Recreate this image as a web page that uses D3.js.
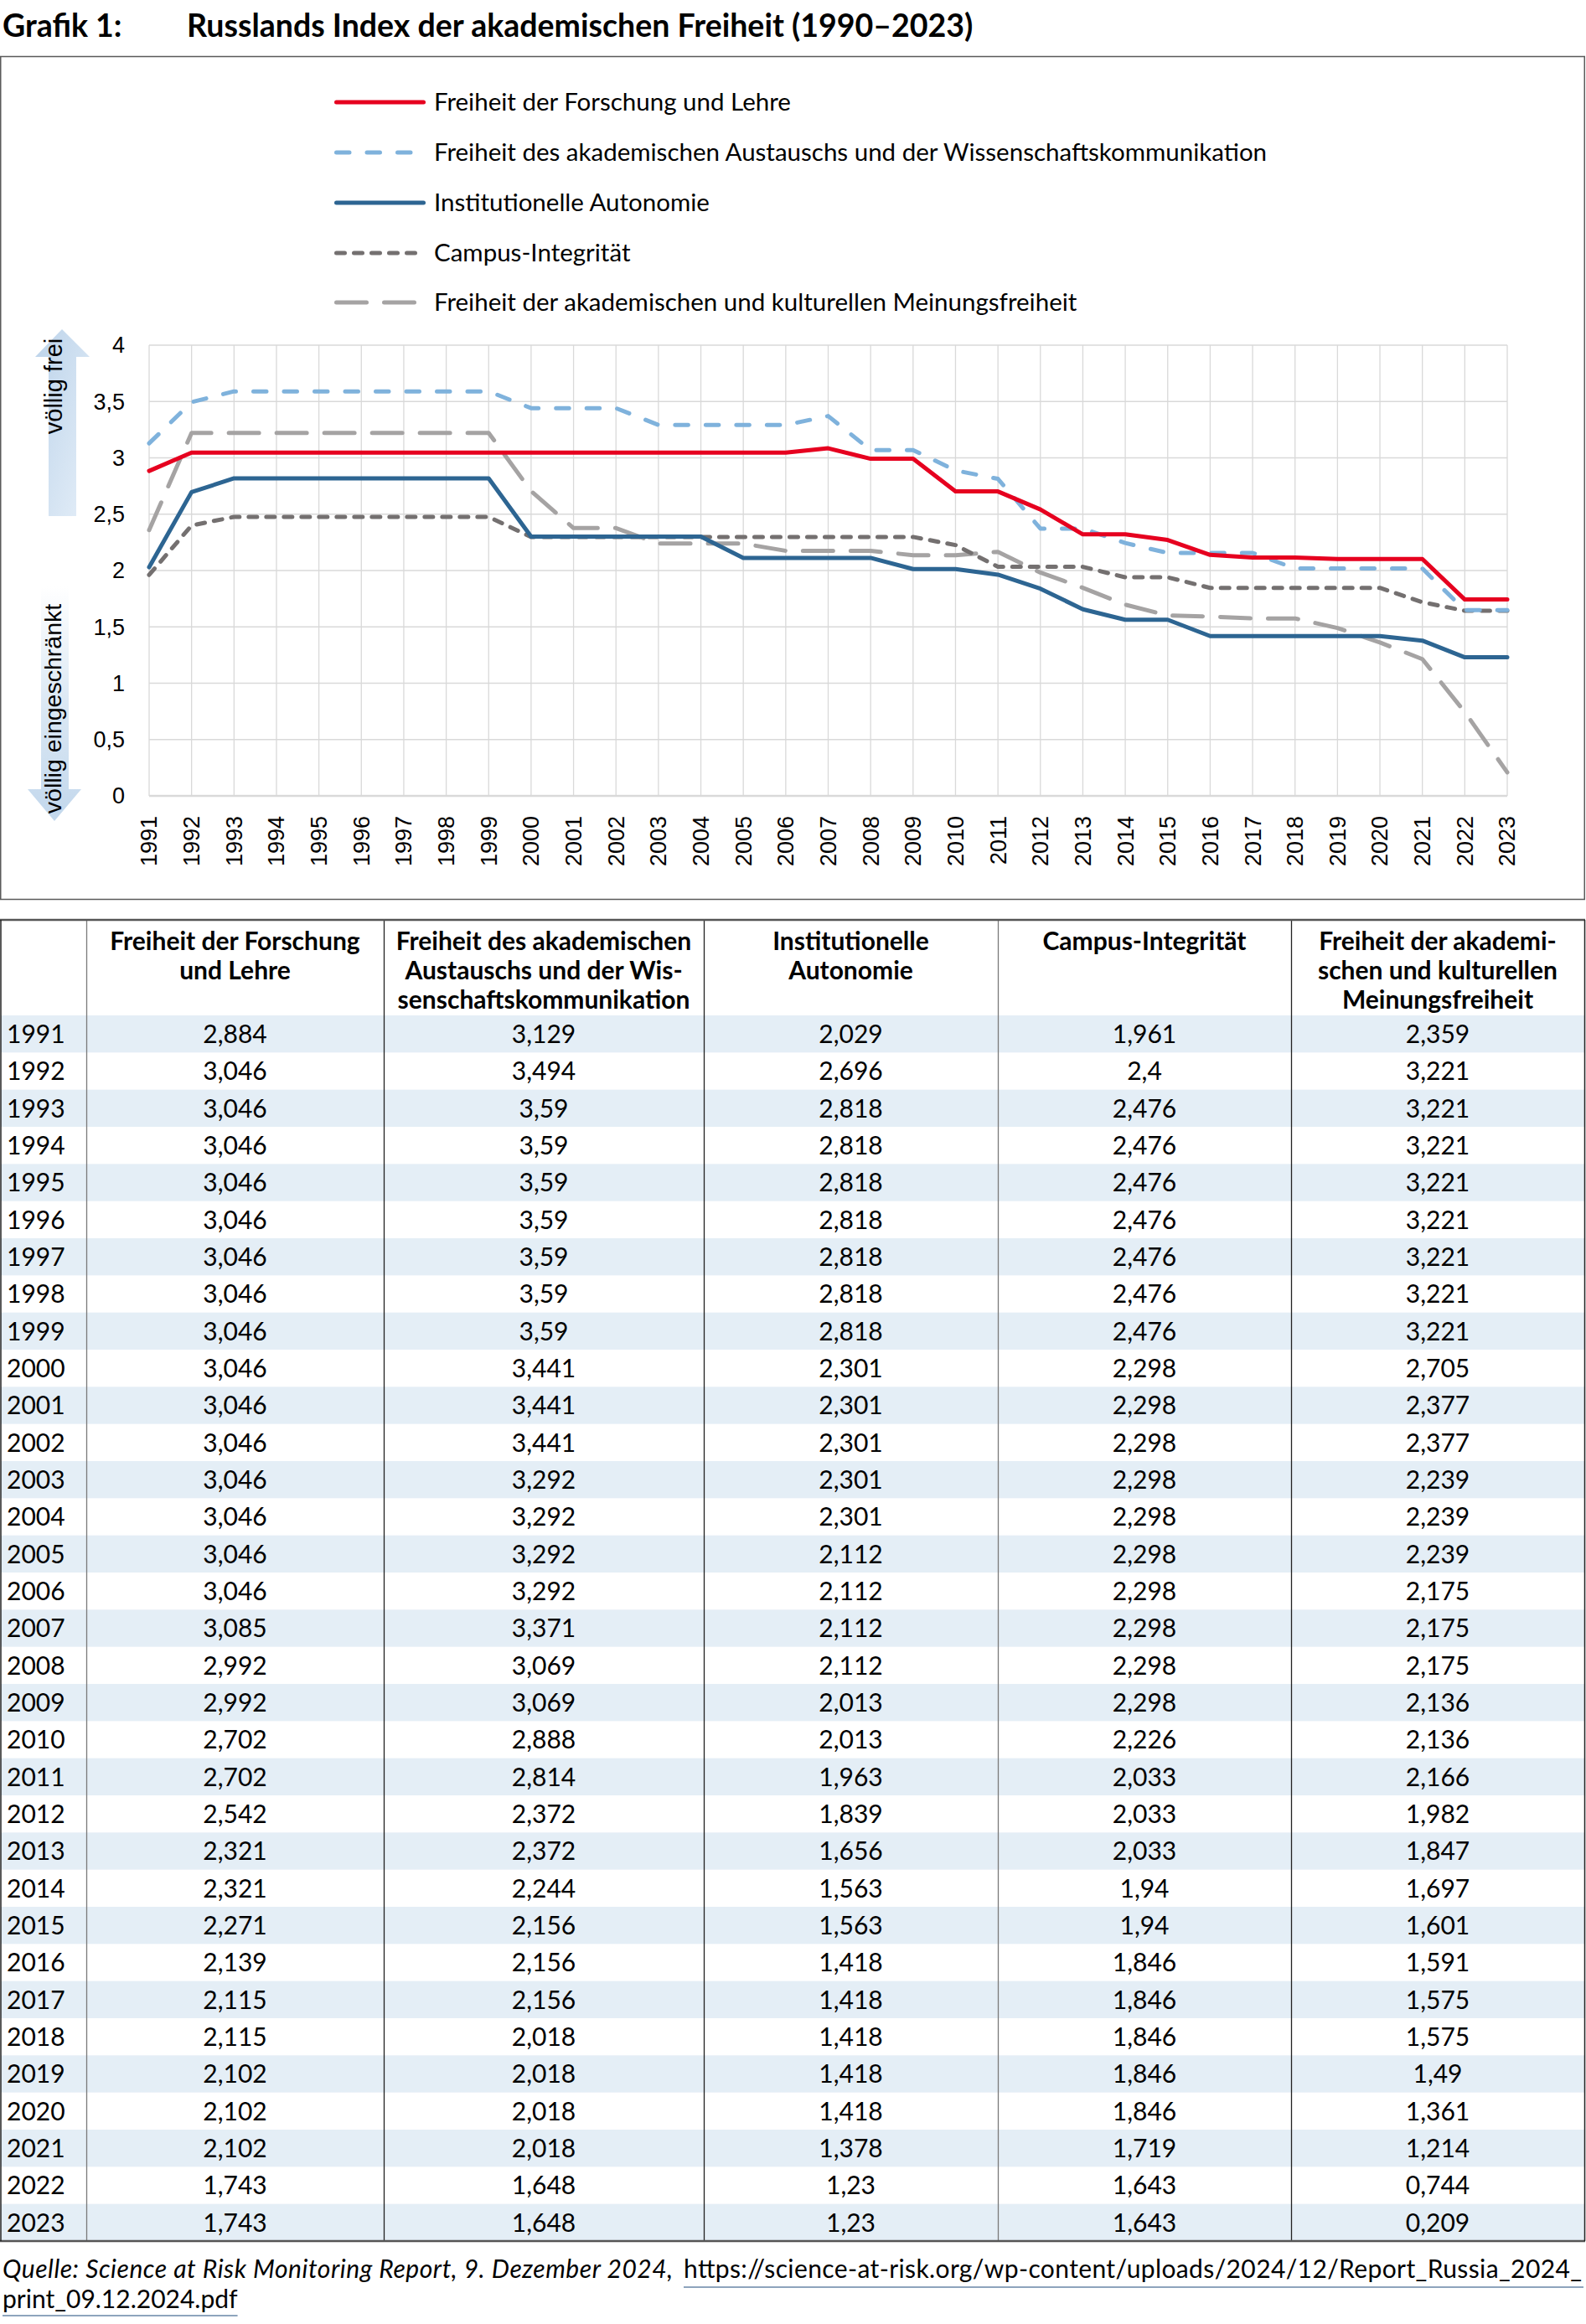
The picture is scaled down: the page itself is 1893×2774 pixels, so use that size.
<!DOCTYPE html>
<html><head><meta charset="utf-8">
<script src="https://cdn.jsdelivr.net/npm/d3@7"></script>
<style>
html,body{margin:0;padding:0;background:#fff;}
svg{display:block;}
</style></head>
<body>
<script>
const years = [1991,1992,1993,1994,1995,1996,1997,1998,1999,2000,2001,2002,2003,2004,2005,2006,2007,2008,2009,2010,2011,2012,2013,2014,2015,2016,2017,2018,2019,2020,2021,2022,2023];
const forschung = [2.884,3.046,3.046,3.046,3.046,3.046,3.046,3.046,3.046,3.046,3.046,3.046,3.046,3.046,3.046,3.046,3.085,2.992,2.992,2.702,2.702,2.542,2.321,2.321,2.271,2.139,2.115,2.115,2.102,2.102,2.102,1.743,1.743];
const austausch = [3.129,3.494,3.59,3.59,3.59,3.59,3.59,3.59,3.59,3.441,3.441,3.441,3.292,3.292,3.292,3.292,3.371,3.069,3.069,2.888,2.814,2.372,2.372,2.244,2.156,2.156,2.156,2.018,2.018,2.018,2.018,1.648,1.648];
const autonomie = [2.029,2.696,2.818,2.818,2.818,2.818,2.818,2.818,2.818,2.301,2.301,2.301,2.301,2.301,2.112,2.112,2.112,2.112,2.013,2.013,1.963,1.839,1.656,1.563,1.563,1.418,1.418,1.418,1.418,1.418,1.378,1.23,1.23];
const campus = [1.961,2.4,2.476,2.476,2.476,2.476,2.476,2.476,2.476,2.298,2.298,2.298,2.298,2.298,2.298,2.298,2.298,2.298,2.298,2.226,2.033,2.033,2.033,1.94,1.94,1.846,1.846,1.846,1.846,1.846,1.719,1.643,1.643];
const meinung = [2.359,3.221,3.221,3.221,3.221,3.221,3.221,3.221,3.221,2.705,2.377,2.377,2.239,2.239,2.239,2.175,2.175,2.175,2.136,2.136,2.166,1.982,1.847,1.697,1.601,1.591,1.575,1.575,1.49,1.361,1.214,0.744,0.209];

const seriesNames = ["Freiheit der Forschung und Lehre","Freiheit des akademischen Austauschs und der Wissenschaftskommunikation","Institutionelle Autonomie","Campus-Integrität","Freiheit der akademischen und kulturellen Meinungsfreiheit"];
const tableHeaders = [
  ["Freiheit der Forschung","und Lehre"],
  ["Freiheit des akademischen","Austauschs und der Wis-","senschaftskommunikation"],
  ["Institutionelle","Autonomie"],
  ["Campus-Integrität"],
  ["Freiheit der akademi-","schen und kulturellen","Meinungsfreiheit"]
];
const yTicks = [0,0.5,1,1.5,2,2.5,3,3.5,4];
const titleLabel = "Grafik 1:";
const titleText = "Russlands Index der akademischen Freiheit (1990–2023)";
const sourceText = "Quelle: Science at Risk Monitoring Report, 9. Dezember 2024,";
const linkLine1 = "https://science-at-risk.org/wp-content/uploads/2024/12/Report_Russia_2024_";
const linkLine2 = "print_09.12.2024.pdf";

const allSeries = [forschung, austausch, autonomie, campus, meinung];
const styles = [
  {color:"#e6001f", dash:null},
  {color:"#7fb2dc", dash:"15.5,21"},
  {color:"#2d6592", dash:null},
  {color:"#747070", dash:"10,11"},
  {color:"#a5a3a3", dash:"36,21"}
];

const W = 1893, H = 2774;
const svg = d3.select("body").append("svg").attr("width",W).attr("height",H)
  .style("font-family","Lato, 'Open Sans', sans-serif");

const defs = svg.append("defs");
const gUp = defs.append("linearGradient").attr("id","gUp").attr("x1","0").attr("y1","0").attr("x2","1").attr("y2","1");
gUp.append("stop").attr("offset","0").attr("stop-color","#bcd3ea");
gUp.append("stop").attr("offset","1").attr("stop-color","#e4eef8");
const gDown = defs.append("linearGradient").attr("id","gDown").attr("x1","0").attr("y1","0").attr("x2","0").attr("y2","1");
gDown.append("stop").attr("offset","0").attr("stop-color","#ffffff");
gDown.append("stop").attr("offset","0.5").attr("stop-color","#dbe8f4");
gDown.append("stop").attr("offset","1").attr("stop-color","#c2d7ec");

// Title
svg.append("text").attr("x",3).attr("y",44).attr("font-weight",700).attr("font-size",37.5).attr("fill","#000").text(titleLabel);
svg.append("text").attr("x",223).attr("y",44).attr("font-weight",700).attr("font-size",37.5).attr("fill","#000").text(titleText);

// chart box
svg.append("rect").attr("x",0.75).attr("y",67.5).attr("width",1890.5).attr("height",1006).attr("fill","none").attr("stroke","#5a5a5a").attr("stroke-width",1.5);

// scales
const x = d3.scaleLinear().domain([1991,2023]).range([178,1799]);
const y = d3.scaleLinear().domain([0,4]).range([950,412]);

// gridlines
const grid = svg.append("g");
grid.selectAll("line.h").data(yTicks.filter(d=>d>0)).join("line")
  .attr("x1",x(1991)).attr("x2",x(2023)).attr("y1",d=>y(d)).attr("y2",d=>y(d))
  .attr("stroke","#d9d9d9").attr("stroke-width",1.3);
grid.selectAll("line.v").data(years).join("line")
  .attr("x1",d=>x(d)).attr("x2",d=>x(d)).attr("y1",y(4)).attr("y2",y(0))
  .attr("stroke","#d9d9d9").attr("stroke-width",1.3);
grid.append("line").attr("x1",x(1991)).attr("x2",x(2023)).attr("y1",y(0)).attr("y2",y(0))
  .attr("stroke","#d9d9d9").attr("stroke-width",2.5);

// y axis labels
svg.append("g").selectAll("text").data(yTicks).join("text")
  .attr("x",149).attr("y",d=>y(d)).attr("dy","0.35em").attr("text-anchor","end")
  .attr("font-family","'Liberation Sans', Arial, sans-serif").attr("font-size",27).attr("fill","#000")
  .text(d=>String(d).replace(".",","));

// x axis labels
svg.append("g").selectAll("text").data(years).join("text")
  .attr("transform",d=>`translate(${x(d)},974) rotate(-90)`).attr("dy","0.35em").attr("text-anchor","end")
  .attr("font-family","'Liberation Sans', Arial, sans-serif").attr("font-size",27).attr("fill","#000")
  .text(d=>d);

// arrows
svg.append("path").attr("d","M74,393 L107,426 L91,426 L91,616 L58,616 L58,426 L42,426 Z").attr("fill","url(#gUp)");
svg.append("path").attr("d","M49,700 L82,700 L82,942 L97,942 L65,980 L33,942 L49,942 Z").attr("fill","url(#gDown)");
svg.append("text").attr("transform","translate(74,461) rotate(-90)").attr("text-anchor","middle")
  .attr("font-family","'Liberation Sans', Arial, sans-serif").attr("font-size",29).attr("fill","#000").text("völlig frei");
svg.append("text").attr("transform","translate(73,846) rotate(-90)").attr("text-anchor","middle")
  .attr("font-family","'Liberation Sans', Arial, sans-serif").attr("font-size",28.5).attr("fill","#000").text("völlig eingeschränkt");

// lines
const line = d3.line().x((d,i)=>x(years[i])).y(d=>y(d));
const lineOrder = [4,3,2,1,0];
lineOrder.forEach(k=>{
  const p = svg.append("path").datum(allSeries[k]).attr("d",line)
    .attr("fill","none").attr("stroke",styles[k].color).attr("stroke-width",5)
    .attr("stroke-linejoin","round").attr("stroke-linecap","round");
  if(styles[k].dash) p.attr("stroke-dasharray",styles[k].dash);
});

// legend
const legY = [122,182,242,302,361];
const leg = svg.append("g");
seriesNames.forEach((n,k)=>{
  const l = leg.append("line").attr("x1",401.5).attr("x2",505.5).attr("y1",legY[k]).attr("y2",legY[k])
    .attr("stroke",styles[k].color).attr("stroke-width",5).attr("stroke-linecap","round");
  if(styles[k].dash) l.attr("stroke-dasharray",styles[k].dash);
  leg.append("text").attr("x",518).attr("y",legY[k]).attr("dy","0.35em").attr("font-size",29.5).attr("fill","#000").text(n);
});

// table
const colX = [0,103,458,840,1191,1541,1891];
const tTop = 1098, headH = 114, rowH = (2675-1212)/33;
const tbl = svg.append("g");
years.forEach((yr,i)=>{
  if(i%2===0) tbl.append("rect").attr("x",1).attr("y",tTop+headH+i*rowH).attr("width",1890).attr("height",rowH).attr("fill","#e4eef6");
});
// header text
tableHeaders.forEach((lines,c)=>{
  const cx = (colX[c+1]+colX[c+2])/2;
  lines.forEach((t,j)=>{
    tbl.append("text").attr("x",cx).attr("y",tTop+25+j*35).attr("dy","0.35em").attr("text-anchor","middle")
      .attr("font-weight",700).attr("font-size",30).attr("fill","#000").text(t);
  });
});
// rows
years.forEach((yr,i)=>{
  const cy = tTop+headH+i*rowH+rowH/2;
  tbl.append("text").attr("x",8).attr("y",cy).attr("dy","0.36em").attr("font-size",30).attr("fill","#000").text(yr);
  allSeries.forEach((s,c)=>{
    const cx = (colX[c+1]+colX[c+2])/2;
    tbl.append("text").attr("x",cx).attr("y",cy).attr("dy","0.36em").attr("text-anchor","middle")
      .attr("font-size",30).attr("fill","#000").text(String(s[i]).replace(".",","));
  });
});
// borders
colX.slice(1,6).forEach((cx,k)=>{
  tbl.append("line").attr("x1",cx+0.5).attr("x2",cx+0.5).attr("y1",tTop).attr("y2",2675)
    .attr("stroke",k===0||k===3?"#7a7a7a":"#222").attr("stroke-width",1.3);
});
tbl.append("line").attr("x1",0).attr("x2",1892).attr("y1",tTop).attr("y2",tTop).attr("stroke","#555").attr("stroke-width",2.5);
tbl.append("line").attr("x1",0).attr("x2",1892).attr("y1",2675).attr("y2",2675).attr("stroke","#555").attr("stroke-width",2.5);
tbl.append("line").attr("x1",1).attr("x2",1).attr("y1",tTop).attr("y2",2675).attr("stroke","#222").attr("stroke-width",1.5);
tbl.append("line").attr("x1",1891.5).attr("x2",1891.5).attr("y1",tTop).attr("y2",2675).attr("stroke","#222").attr("stroke-width",1.5);

// footer
svg.append("text").attr("x",3).attr("y",2719).attr("font-size",30).attr("font-style","italic").attr("fill","#000")
  .attr("textLength",800).attr("lengthAdjust","spacing").text(sourceText);
svg.append("text").attr("x",816).attr("y",2719).attr("font-size",30).attr("fill","#000")
  .attr("textLength",1072).attr("lengthAdjust","spacing").text(linkLine1);
svg.append("text").attr("x",3).attr("y",2755).attr("font-size",30).attr("fill","#000").text(linkLine2);
// underlines
const l2w = svg.append("text").attr("x",-1000).attr("y",-1000).attr("font-size",30).text(linkLine2);
const w2 = l2w.node().getComputedTextLength(); l2w.remove();
svg.append("line").attr("x1",816).attr("x2",1890).attr("y1",2730).attr("y2",2730).attr("stroke","#8ea4bd").attr("stroke-width",2);
svg.append("line").attr("x1",3).attr("x2",3+w2).attr("y1",2764).attr("y2",2764).attr("stroke","#8ea4bd").attr("stroke-width",2);
</script>
</body></html>
